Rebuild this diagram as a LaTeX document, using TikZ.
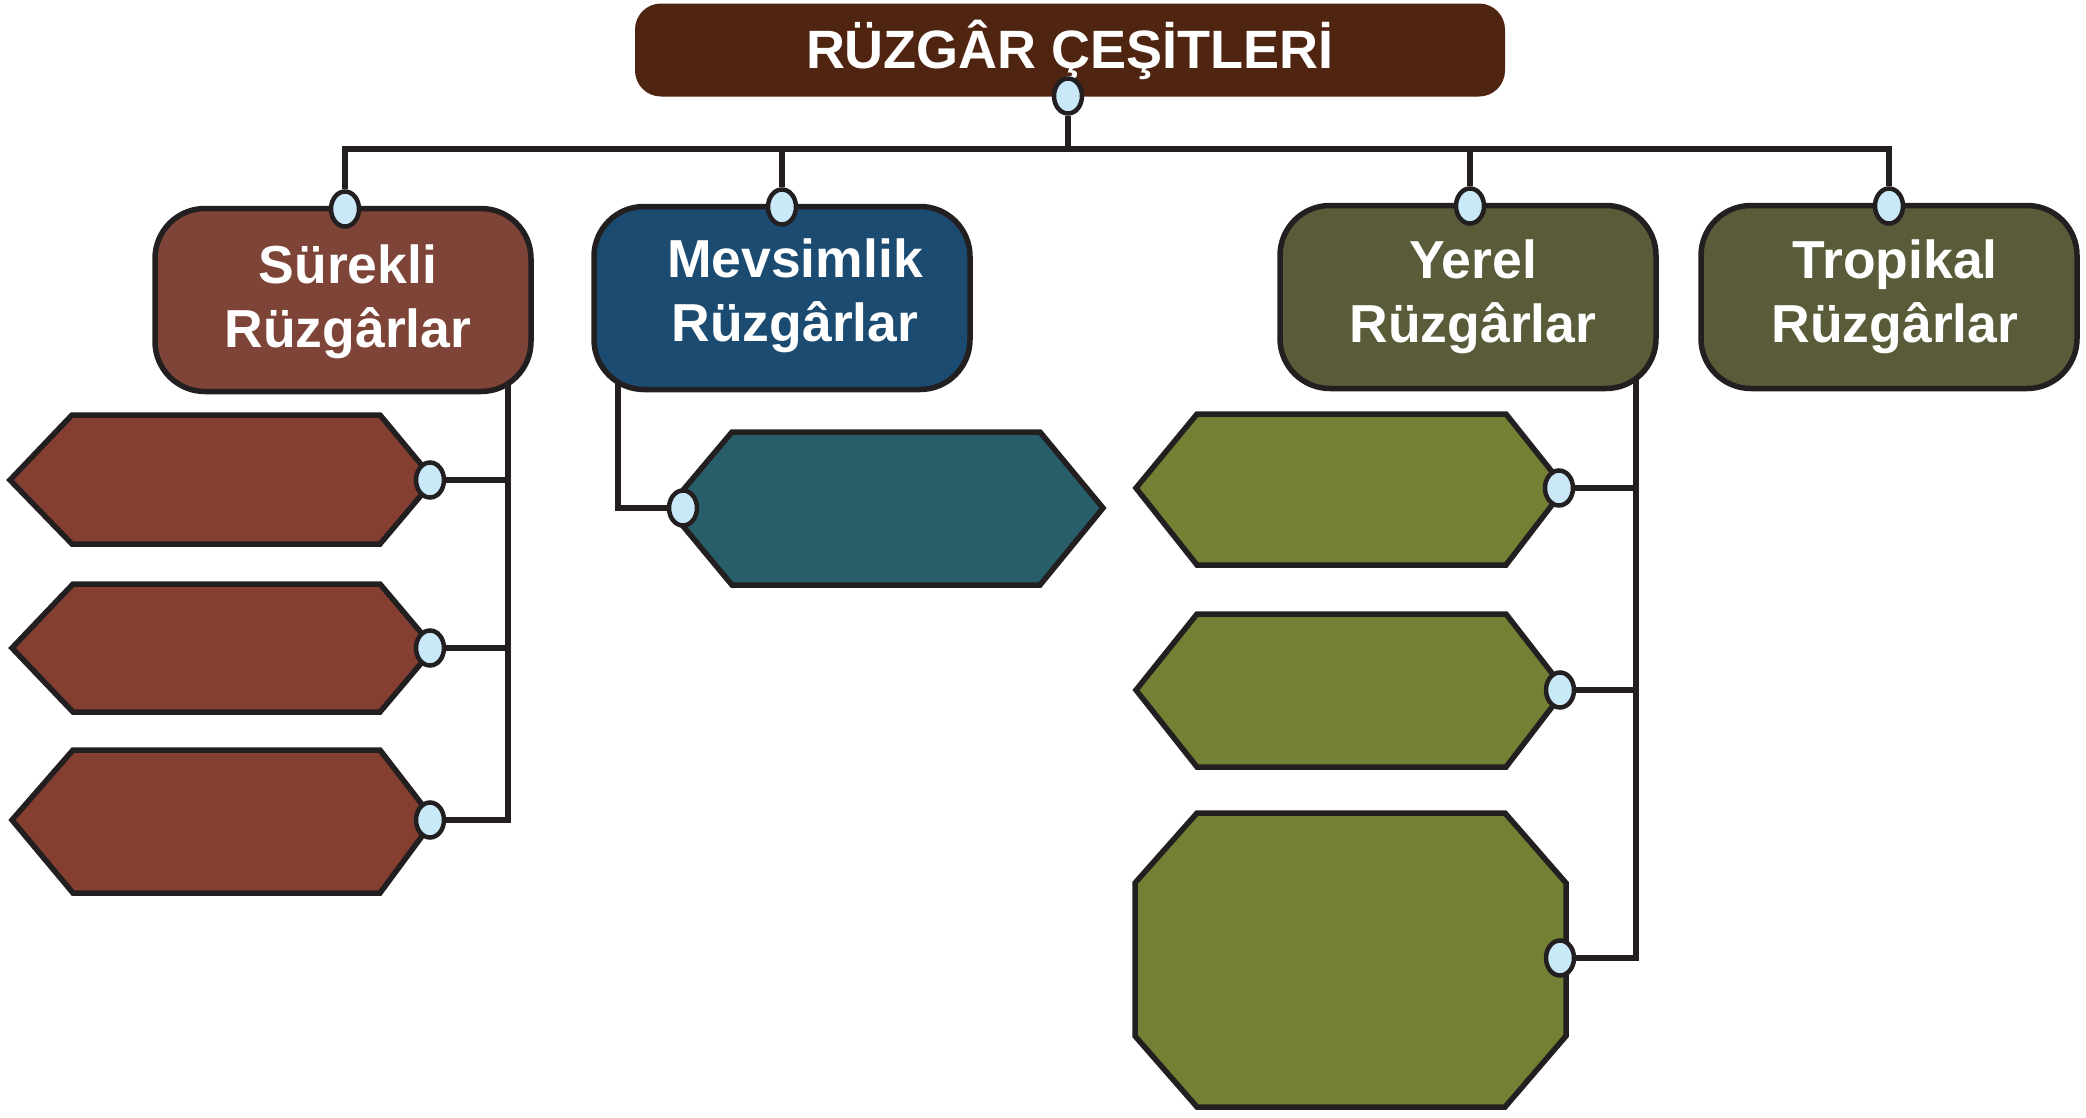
\documentclass[tikz,border=0pt]{standalone}
\usepackage{fontspec}
\setmainfont{Liberation Sans}
\usetikzlibrary{shapes.geometric,backgrounds,calc}
\definecolor{outl}{HTML}{231F20}
\definecolor{titlebrown}{HTML}{4F2410}
\definecolor{surbox}{HTML}{7D4437}
\definecolor{hexred}{HTML}{843F31}
\definecolor{mevbox}{HTML}{1B4B71}
\definecolor{tealhex}{HTML}{285E6A}
\definecolor{olivebox}{HTML}{5A5B39}
\definecolor{olivehex}{HTML}{738134}
\definecolor{dotblue}{HTML}{C9E9F9}
\begin{document}
\begin{tikzpicture}[x=1pt,y=-1pt,
  titlebox/.style={rounded corners=26pt, fill=titlebrown, minimum width=870pt, minimum height=93pt, text=white, font=\fontsize{54}{60}\selectfont\bfseries, inner sep=0pt},
  catbox/.style={draw=outl, line width=5.5pt, rounded corners=50pt, minimum width=376pt, minimum height=183pt, inner sep=0pt},
  cattext/.style={text=white, font=\fontsize{53.5}{64}\selectfont\bfseries, align=center, inner sep=0pt},
  dot/.style={ellipse, draw=outl, line width=4.5pt, fill=dotblue, minimum width=28pt, minimum height=35pt, inner sep=0pt},
  conn/.style={draw=outl, line width=6pt},
  shp/.style={draw=outl, line width=5.5pt, line join=miter}]
\path[use as bounding box] (0,0) rectangle (2086,1117);

% title
\node[titlebox] (title) at (1070,50) {RÜZGÂR ÇEŞİTLERİ};
\node[dot] (c0) at (1068,96) {};

% category boxes
\node[catbox, fill=surbox] (sur) at (343,300) {};
\node[catbox, fill=mevbox] (mev) at (782,298) {};
\node[catbox, fill=olivebox] (yer) at (1468,297) {};
\node[catbox, fill=olivebox] (tro) at (1889,297) {};
\node[cattext] (surT) at ($(sur)+(5,2)$) {Sürekli\\Rüzgârlar};
\node[cattext] (mevT) at ($(mev)+(13,-2)$) {Mevsimlik\\Rüzgârlar};
\node[cattext] (yerT) at ($(yer)+(5,0)$) {Yerel\\Rüzgârlar};
\node[cattext] (troT) at ($(tro)+(6,0)$) {Tropikal\\Rüzgârlar};
\node[dot] (cs) at (345,209) {};
\node[dot] (cm) at (782,207) {};
\node[dot] (cy) at (1470,206) {};
\node[dot] (ct) at (1889,206) {};

% Sürekli children
\draw[shp, fill=hexred] (10,480) -- (72,415) -- (380,415) -- (434,480) -- (380,544) -- (72,544) -- cycle;
\draw[shp, fill=hexred] (12,648) -- (73,584) -- (380,584) -- (434,648) -- (380,712) -- (73,712) -- cycle;
\draw[shp, fill=hexred] (12,820) -- (73,750) -- (380,750) -- (434,820) -- (380,893) -- (73,893) -- cycle;
\node[dot] (s1) at (430,480) {};
\node[dot] (s2) at (430,648) {};
\node[dot] (s3) at (430,820) {};

% Mevsimlik child
\draw[shp, fill=tealhex] (668,508) -- (732,432) -- (1040,432) -- (1103,508) -- (1040,585) -- (732,585) -- cycle;
\node[dot] (m1) at (683,508) {};

% Yerel children
\draw[shp, fill=olivehex] (1136,488) -- (1197,414) -- (1506,414) -- (1565,488) -- (1506,565) -- (1197,565) -- cycle;
\draw[shp, fill=olivehex] (1136,690) -- (1197,614) -- (1506,614) -- (1565,690) -- (1506,767) -- (1197,767) -- cycle;
\draw[shp, fill=olivehex] (1197,813) -- (1505,813) -- (1566,883) -- (1566,1036) -- (1505,1107) -- (1197,1107) -- (1135,1036) -- (1135,883) -- cycle;
\node[dot] (y1) at (1559,488) {};
\node[dot] (y2) at (1560,690) {};
\node[dot] (y3) at (1560,958) {};

% connectors
\begin{scope}[on background layer]
\fill[white] (0,0) rectangle (2086,1117);
\coordinate (bus) at (1068,149);
\draw[conn] (c0) -- (bus);
\draw[conn] (cs) |- (bus) -| (ct);
\draw[conn] (cm) -- (cm |- bus);
\draw[conn] (cy) -- (cy |- bus);
\coordinate (sv) at (508,820);
\draw[conn] (sur.center -| sv) -- (sv) -- (s3);
\draw[conn] (s1) -- (s1 -| sv);
\draw[conn] (s2) -- (s2 -| sv);
\coordinate (mv) at (618,508);
\draw[conn] (mev.center -| mv) -- (mv) -- (m1);
\coordinate (yv) at (1636,958);
\draw[conn] (yer.center -| yv) -- (yv) -- (y3);
\draw[conn] (y1) -- (y1 -| yv);
\draw[conn] (y2) -- (y2 -| yv);
\end{scope}
\end{tikzpicture}
\end{document}
